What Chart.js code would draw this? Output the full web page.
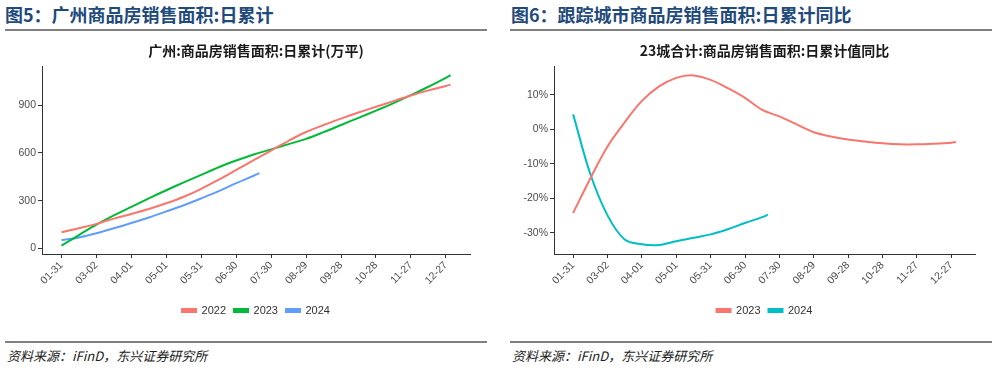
<!DOCTYPE html>
<html>
<head>
<meta charset="utf-8">
<script src="https://cdn.jsdelivr.net/npm/chart.js@4/dist/chart.umd.min.js"></script>
<style>
body{margin:0;width:997px;height:370px;background:#fff;position:relative;overflow:hidden;font-family:"Noto Sans CJK SC",sans-serif}
.hd{position:absolute;top:4px;font-size:18px;font-weight:bold;color:#1f4a7c;line-height:20px;white-space:nowrap}
.rule{position:absolute;height:2px;background:#808080}
.src{position:absolute;top:348px;font-size:13px;font-style:italic;color:#222;line-height:16px;white-space:nowrap}
.box{position:absolute;top:36px;width:497px;height:300px}
</style>
</head>
<body>
<div class="hd" style="left:5px">图5：广州商品房销售面积:日累计</div>
<div class="hd" style="left:511px">图6：跟踪城市商品房销售面积:日累计同比</div>
<div class="rule" style="left:5px;width:482px;top:29px"></div>
<div class="rule" style="left:510px;width:482px;top:29px"></div>
<div class="box" style="left:0"><canvas id="c1" width="497" height="300"></canvas></div>
<div class="box" style="left:500px"><canvas id="c2" width="497" height="300"></canvas></div>
<div class="rule" style="left:5px;width:482px;top:341px"></div>
<div class="rule" style="left:510px;width:482px;top:341px"></div>
<div class="src" style="left:7px">资料来源：iFinD，东兴证券研究所</div>
<div class="src" style="left:512px">资料来源：iFinD，东兴证券研究所</div>
<script>
// x 轴: 一年中的第几天
const tickDays = [31,61,91,121,151,181,211,241,271,301,331,361];
const tickLabels = ['01-31','03-02','04-01','05-01','05-31','06-30','07-30','08-29','09-28','10-28','11-27','12-27'];

// 图5 广州 日累计(万平)
const gzDays = [31,46,61,76,91,106,121,136,151,166,181,196,211,226,241,256,271,286,301,316,331,346,361,365];
const gz2022 = [102,128,155,188,217,248,284,325,375,432,493,555,615,676,731,775,815,853,889,925,960,992,1020,1028];
const gz2023 = [19,85,150,208,262,315,366,415,462,510,552,590,622,655,688,730,775,820,865,912,962,1015,1071,1087];
const gz2024Days = [31,46,61,76,91,106,121,136,151,166,181,196,201];
const gz2024 = [52,70,96,127,160,195,233,272,315,360,410,457,473];
const gzYTicks = [0,300,600,900];

// 图6 23城合计 日累计值同比(%)
const yoyDays = [31,46,61,76,91,106,121,136,151,166,181,196,211,226,241,256,271,286,301,316,331,346,361,365];
const yoy2023 = [-24.3,-14.3,-5.0,2.0,8.2,12.4,14.9,15.6,14.3,11.9,9.1,5.6,3.7,1.4,-0.9,-2.1,-3.0,-3.6,-4.1,-4.4,-4.4,-4.2,-3.9,-3.7];
const yoy2024Days = [31,46,61,76,91,106,121,136,151,166,181,196,201];
const yoy2024 = [4.3,-13.0,-25.0,-32.0,-33.4,-33.6,-32.5,-31.5,-30.5,-29.0,-27.2,-25.5,-24.8];
const yoyYTicks = [-30,-20,-10,0,10];

const RED='#F8766D', GREEN='#00BA38', BLUE='#619CFF', CYAN='#00BFC4';

function pts(xs, ys){ return xs.map((x,i)=>({x, y:ys[i]})); }
function ds(label, xs, ys, color){
  return { label, data:pts(xs,ys), borderColor:color, backgroundColor:color, borderWidth:2,
    pointRadius:0, tension:0.35, fill:false };
}

function makeChart(id, title, datasets, yMin, yMax, yTicks, yFmt, yWidth, rightPad){
  return new Chart(document.getElementById(id), {
    type:'line',
    data:{ datasets },
    options:{
      responsive:false, animation:false, devicePixelRatio:1,
      layout:{ padding:{ left:0, right:rightPad, top:0, bottom:10 } },
      plugins:{
        title:{ display:true, text:title, fullSize:false, color:'#1a1a1a',
          font:{ family:'"Noto Sans CJK SC", sans-serif', size:14, weight:'bold' },
          padding:{ top:6, bottom:8 } },
        legend:{ position:'bottom', fullSize:false,
          labels:{ boxWidth:14, boxHeight:3, padding:8, color:'#333',
            font:{ family:'"Liberation Sans", Arial, sans-serif', size:11 } } },
        tooltip:{ enabled:false }
      },
      scales:{
        x:{ type:'linear', min:14.3, max:381.7,
          afterBuildTicks: s => { s.ticks = tickDays.map(v=>({value:v})); },
          afterFit: s => { s.height = 43; },
          grid:{ display:true, drawOnChartArea:false, drawTicks:true, tickLength:4, color:'#333' },
          border:{ display:true, color:'#333', width:1 },
          ticks:{ autoSkip:false, maxRotation:45, minRotation:45, padding:1, color:'#4d4d4d',
            font:{ family:'"Liberation Sans", Arial, sans-serif', size:10.5 },
            callback: v => tickLabels[tickDays.indexOf(v)] ?? '' } },
        y:{ min:yMin, max:yMax,
          afterBuildTicks: s => { s.ticks = yTicks.map(v=>({value:v})); },
          afterFit: s => { s.width = yWidth; },
          grid:{ display:true, drawOnChartArea:false, drawTicks:true, tickLength:4, color:'#333' },
          border:{ display:true, color:'#333', width:1 },
          ticks:{ padding:2, color:'#4d4d4d',
            font:{ family:'"Liberation Sans", Arial, sans-serif', size:10.5 },
            callback: yFmt } }
      }
    }
  });
}

makeChart('c1', '广州:商品房销售面积:日累计(万平)',
  [ ds('2022', gzDays, gz2022, RED), ds('2023', gzDays, gz2023, GREEN), ds('2024', gz2024Days, gz2024, BLUE) ],
  -34, 1140, gzYTicks, v => v, 42, 27);

makeChart('c2', '23城合计:商品房销售面积:日累计值同比',
  [ ds('2023', yoyDays, yoy2023, RED), ds('2024', yoy2024Days, yoy2024, CYAN) ],
  -36.2, 18.1, yoyYTicks, v => v + '%', 54, 22);
</script>
</body>
</html>
